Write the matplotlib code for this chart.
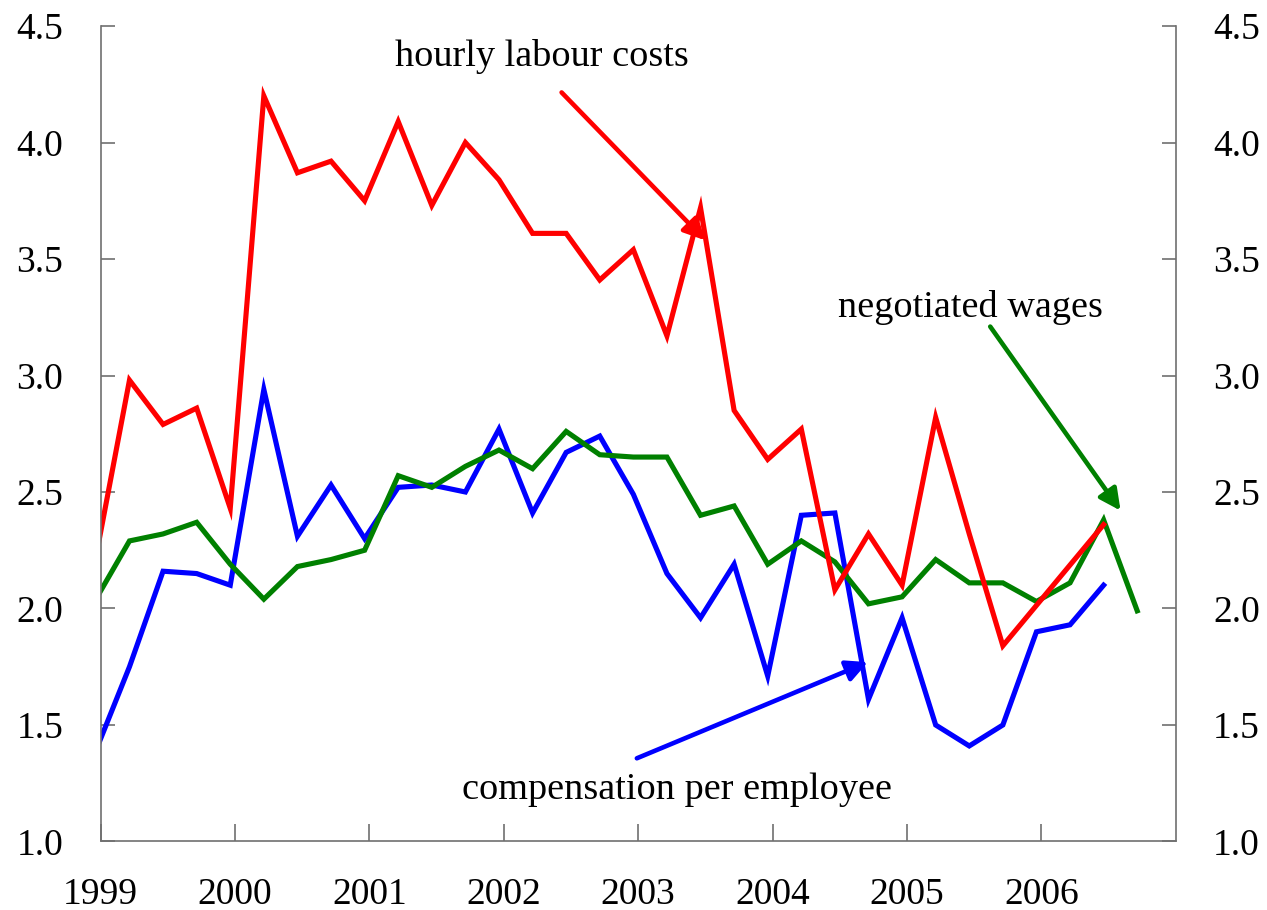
import numpy as np
import matplotlib
matplotlib.use("Agg")
import matplotlib.pyplot as plt

# quarterly observations, first one sits just left of the axis start
first_quarter = 1998.964
n_quarters = 32

hourly_labour_costs = [2.22, 2.98, 2.79, 2.86, 2.43, 4.20, 3.87, 3.92,
                       3.75, 4.09, 3.73, 4.00, 3.84, 3.61, 3.61, 3.41,
                       3.54, 3.17, 3.72, 2.85, 2.64, 2.77, 2.08, 2.32,
                       2.10, 2.82, 2.32, 1.84, np.nan, np.nan, 2.36, np.nan]
compensation_per_employee = [1.39, 1.75, 2.16, 2.15, 2.10, 2.94, 2.31, 2.53,
                             2.30, 2.52, 2.53, 2.50, 2.77, 2.41, 2.67, 2.74,
                             2.49, 2.15, 1.96, 2.19, 1.71, 2.40, 2.41, 1.61,
                             1.96, 1.50, 1.41, 1.50, 1.90, 1.93, 2.10, np.nan]
negotiated_wages = [2.04, 2.29, 2.32, 2.37, 2.19, 2.04, 2.18, 2.21,
                    2.25, 2.57, 2.52, 2.61, 2.68, 2.60, 2.76, 2.66,
                    2.65, 2.65, 2.40, 2.44, 2.19, 2.29, 2.20, 2.02,
                    2.05, 2.21, 2.11, 2.11, 2.03, 2.11, 2.38, 1.99]

years = [1999, 2000, 2001, 2002, 2003, 2004, 2005, 2006]
y_ticks = [1.0, 1.5, 2.0, 2.5, 3.0, 3.5, 4.0, 4.5]

plt.rcParams['font.family'] = ['Liberation Serif', 'DejaVu Serif']

fig = plt.figure(figsize=(12.67, 9.10), dpi=100)
ax = fig.add_axes([0.0795, 0.0753, 0.8484, 0.8961])

x = first_quarter + 0.25 * np.arange(n_quarters)


def draw(values, color):
    v = np.array(values, dtype=float)
    ok = ~np.isnan(v)
    ax.plot(x[ok], v[ok], color=color, lw=3.7, solid_joinstyle='miter')


draw(compensation_per_employee, '#0000ff')
draw(negotiated_wages, '#008000')
draw(hourly_labour_costs, '#ff0000')

ax.set_xlim(1999, 2007)
ax.set_ylim(1.0, 4.5)

grey = '#707070'
for side in ['left', 'right', 'bottom']:
    ax.spines[side].set_color(grey)
    ax.spines[side].set_linewidth(1.2)
ax.spines['top'].set_visible(False)

ax.set_xticks(years)
ax.set_xticklabels([str(y) for y in years])
ax.set_yticks(y_ticks)
ax.set_yticklabels(['%.1f' % t for t in y_ticks])
ax.tick_params(axis='x', direction='in', length=12, width=1.2, color=grey,
               labelsize=27, pad=26)
ax.tick_params(axis='y', direction='in', length=10, width=1.2, color=grey,
               labelsize=27, pad=27, left=True, right=True, labelright=True)

# labels and arrows
label_font = dict(fontsize=27.5, ha='center', va='center')
ax.text(2002.28, 4.37, 'hourly labour costs', **label_font)
ax.annotate('', xy=(2003.50, 3.58), xytext=(2002.43, 4.215),
            arrowprops=dict(arrowstyle='-|>', color='#ff0000', lw=3.3,
                            mutation_scale=32, shrinkA=0, shrinkB=0))

ax.text(2005.47, 3.29, 'negotiated wages', **label_font)
ax.annotate('', xy=(2006.59, 2.42), xytext=(2005.62, 3.21),
            arrowprops=dict(arrowstyle='-|>', color='#008000', lw=3.3,
                            mutation_scale=32, shrinkA=0, shrinkB=0))

ax.text(2003.29, 1.22, 'compensation per employee', **label_font)
ax.annotate('', xy=(2004.71, 1.77), xytext=(2002.99, 1.357),
            arrowprops=dict(arrowstyle='-|>', color='#0000ff', lw=3.3,
                            mutation_scale=32, shrinkA=0, shrinkB=0))

fig.savefig('out.png', dpi=100)
